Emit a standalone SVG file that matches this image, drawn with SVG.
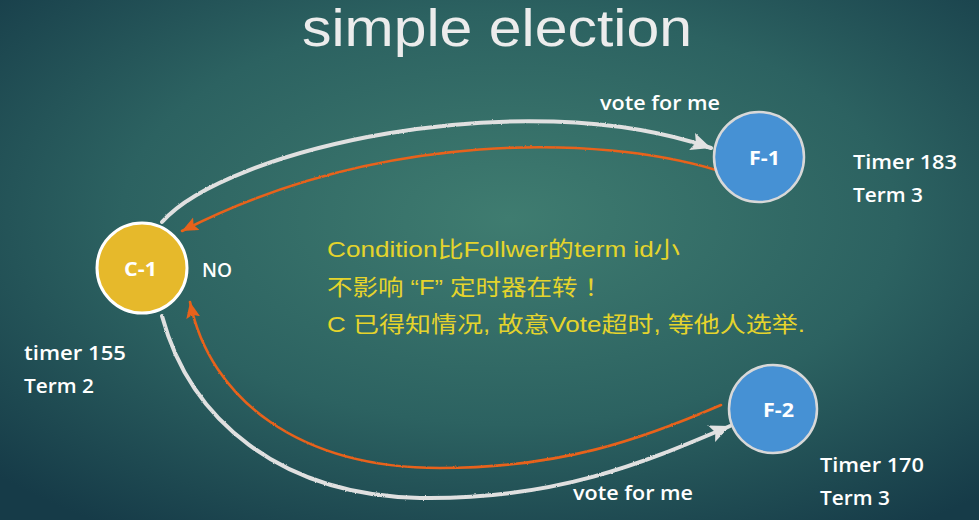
<svg xmlns="http://www.w3.org/2000/svg" width="979" height="520" viewBox="0 0 979 520">
  <defs>
    <radialGradient id="board" cx="0.52" cy="0.42" r="0.72">
      <stop offset="0" stop-color="#3f7c70"/>
      <stop offset="0.55" stop-color="#2c6261"/>
      <stop offset="1" stop-color="#163b48"/>
    </radialGradient>
    <!-- rough chalk edge -->
    <filter id="chalk" x="-5%" y="-5%" width="110%" height="110%">
      <feTurbulence type="fractalNoise" baseFrequency="0.9" numOctaves="2" seed="3" result="n"/>
      <feDisplacementMap in="SourceGraphic" in2="n" scale="2" xChannelSelector="R" yChannelSelector="G"/>
    </filter>
    <marker id="headWhite" markerUnits="userSpaceOnUse" markerWidth="22" markerHeight="20" refX="20" refY="9" orient="auto">
      <path d="M0,0 L20,9 L0,18 L4,9 Z" fill="#e2e2e2"/>
    </marker>
    <marker id="headOrange" markerUnits="userSpaceOnUse" markerWidth="18" markerHeight="16" refX="16" refY="7" orient="auto">
      <path d="M0,0 L16,7 L0,14 L3,7 Z" fill="#e8621a"/>
    </marker>
    <style>
      .title { font-family: "Liberation Sans", Arial, sans-serif; font-size: 51px; fill: #ececec; }
      .note { font-family: "Open Sans", "Noto Sans", sans-serif; font-size: 19px; fill: #ffffff; font-weight: 600; }
      .nodeLabel { font-family: "Open Sans", "Noto Sans", sans-serif; font-size: 19px; fill: #ffffff; font-weight: 700; }
      .remark { font-family: "Liberation Sans", "Noto Sans CJK SC", sans-serif; font-size: 22px; fill: #e5d42c; }
      .chalk { fill: none; stroke: #e0e0e0; stroke-width: 4; stroke-linecap: round; }
      .reply { fill: none; stroke: #e8621a; stroke-width: 2.6; stroke-linecap: round; }
    </style>
  </defs>

  <rect x="0" y="0" width="979" height="520" fill="url(#board)"/>

  <text class="title" x="302" y="46" textLength="390" lengthAdjust="spacingAndGlyphs">simple election</text>

  <!-- connectors -->
  <g id="connectors" filter="url(#chalk)">
    <path class="chalk" d="M162,222 C225,150 520,82 711,148" marker-end="url(#headWhite)"/>
    <path class="reply" d="M716,170 C600,135 380,130 182,231" marker-end="url(#headOrange)"/>
    <path class="chalk" d="M162,316 C190,420 280,495 420,498 C560,500 650,460 730,426" marker-end="url(#headWhite)"/>
    <path class="reply" d="M721,405 C640,440 560,468 440,468 C300,468 210,400 190,302" marker-end="url(#headOrange)"/>
  </g>

  <!-- candidate -->
  <g id="node-c1">
    <circle cx="142" cy="268" r="45" fill="#e6b92b" stroke="#ffffff" stroke-width="3"/>
    <text class="nodeLabel" x="124" y="276" textLength="33" lengthAdjust="spacingAndGlyphs">C-1</text>
  </g>

  <!-- followers -->
  <g id="node-f1">
    <circle cx="759" cy="157" r="45" fill="#4691d4" stroke="#d8d8d8" stroke-width="2.5"/>
    <text class="nodeLabel" x="749" y="165" textLength="31" lengthAdjust="spacingAndGlyphs">F-1</text>
  </g>
  <g id="node-f2">
    <circle cx="773" cy="409" r="44" fill="#4691d4" stroke="#d8d8d8" stroke-width="2.5"/>
    <text class="nodeLabel" x="763" y="417" textLength="31" lengthAdjust="spacingAndGlyphs">F-2</text>
  </g>

  <!-- labels -->
  <g id="labels">
    <text class="note" x="600" y="110" textLength="120" lengthAdjust="spacingAndGlyphs">vote for me</text>
    <text class="note" x="573" y="500" textLength="120" lengthAdjust="spacingAndGlyphs">vote for me</text>
    <text class="note" x="202" y="277" textLength="30" lengthAdjust="spacingAndGlyphs">NO</text>
    <text class="note" x="853" y="169" textLength="104" lengthAdjust="spacingAndGlyphs">Timer 183</text>
    <text class="note" x="853" y="202" textLength="70" lengthAdjust="spacingAndGlyphs">Term 3</text>
    <text class="note" x="820" y="472" textLength="104" lengthAdjust="spacingAndGlyphs">Timer 170</text>
    <text class="note" x="820" y="505" textLength="70" lengthAdjust="spacingAndGlyphs">Term 3</text>
    <text class="note" x="24" y="360" textLength="102" lengthAdjust="spacingAndGlyphs">timer 155</text>
    <text class="note" x="24" y="393" textLength="70" lengthAdjust="spacingAndGlyphs">Term 2</text>
  </g>

  <g id="remark">
    <text class="remark" x="327" y="257" textLength="353" lengthAdjust="spacingAndGlyphs">Condition比Follwer的term id小</text>
    <text class="remark" x="327" y="295" textLength="283" lengthAdjust="spacingAndGlyphs">不影响 “F” 定时器在转 ！</text>
    <text class="remark" x="327" y="332" textLength="478" lengthAdjust="spacingAndGlyphs">C 已得知情况, 故意Vote超时, 等他人选举.</text>
  </g>
</svg>
